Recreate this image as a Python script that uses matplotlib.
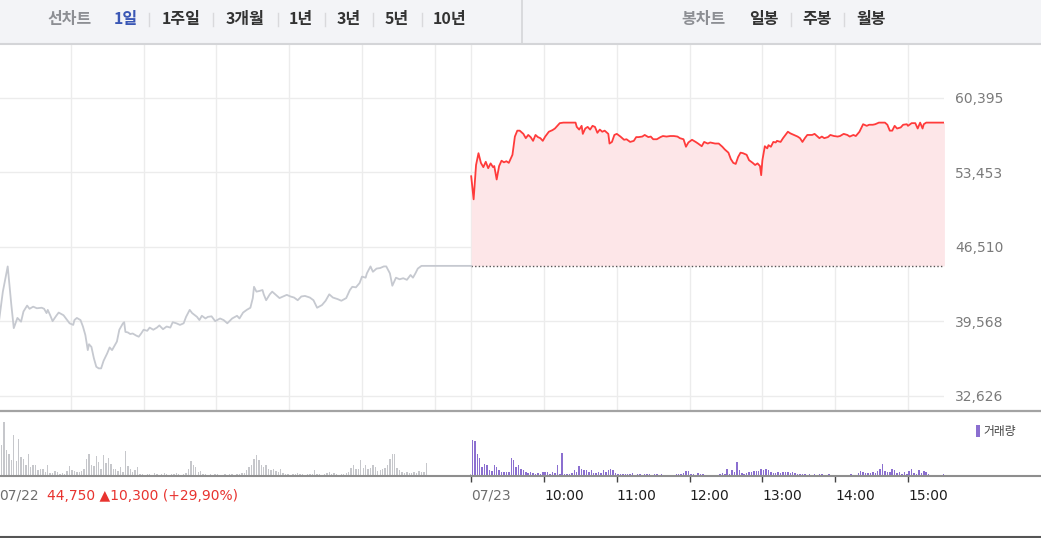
import numpy as np
import matplotlib
matplotlib.use("Agg")
import matplotlib.pyplot as plt
from matplotlib.patches import Rectangle
from matplotlib.lines import Line2D

# ---------------- data ----------------
prev_close = 44750
y_ticks = [32626, 39568, 46510, 53453, 60395]
day1_label = "07/22"
day2_label = "07/23"
summary_text = "44,750 \u25b210,300 (+29,90%)"
hour_labels = ["10:00", "11:00", "12:00", "13:00", "14:00", "15:00"]
period_tabs = ["1일", "1주일", "3개월", "1년", "3년", "5년", "10년"]
candle_tabs = ["일봉", "주봉", "월봉"]
line_tab = "선차트"
candle_tab = "봉차트"
volume_label = "거래량"

# 07/22 price (time, price)
t1 = ["09:00","09:04","09:08","09:11","09:13","09:16","09:19","09:21","09:24","09:26",
      "09:29","09:32","09:36","09:38","09:40","09:41","09:43","09:45","09:48","09:50",
      "09:54","09:57","09:59","10:02","10:03","10:05","10:08","10:10","10:12","10:14",
      "10:15","10:17","10:19","10:21","10:23","10:25","10:27","10:30","10:32","10:34",
      "10:36","10:38","10:40","10:43","10:44","10:45","10:47","10:49","10:51","10:54",
      "10:56","10:58","11:00","11:03","11:05","11:08","11:11","11:13","11:16","11:19",
      "11:22","11:24","11:27","11:30","11:33","11:35","11:38","11:40","11:44","11:46",
      "11:48","11:51","11:53","11:56","11:59","12:03","12:06","12:09","12:13","12:17",
      "12:19","12:22","12:25","12:28","12:30","12:31","12:33","12:35","12:38","12:39",
      "12:41","12:44","12:46","12:49","12:52","12:55","12:58","13:01","13:04","13:07",
      "13:10","13:13","13:17","13:20","13:23","13:27","13:30","13:33","13:36","13:40",
      "13:43","13:47","13:50","13:52","13:55","13:58","14:00","14:03","14:04","14:07",
      "14:09","14:12","14:15","14:18","14:20","14:23","14:25","14:28","14:31","14:34",
      "14:37","14:40","14:42","14:44","14:46","14:49","15:30"]
p1 = [38900,42350,44700,41100,38950,39900,39550,40500,41050,40750,
      40950,40800,40850,40750,40350,40650,40150,39600,40100,40400,
      40150,39700,39400,39250,39700,39900,39700,39100,38300,36900,
      37450,37200,36150,35350,35200,35200,35900,36600,37150,36900,
      37300,37700,38800,39400,39500,38600,38550,38400,38450,38250,
      38150,38450,38800,38700,39000,38800,39000,39200,38850,39100,
      39000,39500,39400,39250,39400,40000,40650,40350,40000,39700,
      40100,39850,40000,40050,39600,39850,39700,39400,39850,40100,
      39850,40400,40650,40850,41750,42800,42350,42400,42500,42100,
      41550,42100,42350,42050,41750,41900,42050,41900,41800,41550,
      41900,41950,41800,41550,40850,41100,41500,42100,41800,41650,
      41500,41750,42500,42800,42750,43150,43750,43650,44050,44700,
      44200,44500,44550,44700,44700,44050,42900,43650,43500,43600,
      43450,43900,43650,44050,44500,44750,44750]

# 07/23 price (time, price)
t2 = ["09:00","09:02","09:04","09:06","09:08","09:10","09:12","09:14","09:16","09:18",
      "09:19","09:21","09:23","09:25","09:27","09:29","09:31","09:34","09:36","09:38",
      "09:40","09:43","09:45","09:47","09:49","09:51","09:53","09:55","09:57","09:59",
      "10:01","10:04","10:07","10:09","10:11","10:13","10:16","10:26","10:27","10:29",
      "10:31","10:32","10:34","10:36","10:38","10:40","10:42","10:44","10:46","10:48",
      "10:50","10:53","10:54","10:56","10:58","11:00","11:03","11:06","11:08","11:11",
      "11:14","11:16","11:18","11:21","11:23","11:26","11:28","11:30","11:33","11:36",
      "11:38","11:41","11:44","11:47","11:50","11:52","11:55","11:57","11:59","12:02",
      "12:05","12:07","12:10","12:12","12:15","12:17","12:21","12:24","12:27","12:29",
      "12:32","12:34","12:36","12:38","12:40","12:42","12:44","12:47","12:49","12:52",
      "12:54","12:56","12:58","12:59","13:00","13:02","13:04","13:05","13:07","13:09",
      "13:11","13:12","13:15","13:17","13:19","13:21","13:23","13:26","13:29","13:31",
      "13:33","13:35","13:37","13:41","13:43","13:45","13:47","13:49","13:51","13:54",
      "13:56","13:59","14:02","14:04","14:07","14:10","14:12","14:15","14:17","14:20",
      "14:23","14:26","14:28","14:31","14:33","14:36","14:41","14:43","14:45","14:47",
      "14:49","14:51","14:54","14:56","14:59","15:00","15:03","15:06","15:08","15:10",
      "15:12","15:13","15:15","15:30"]
p2 = [53100,50950,54150,55250,54350,53950,54450,53850,54300,53950,
      54050,52800,54050,54550,54400,54500,54350,55100,56800,57350,
      57350,57050,56650,56950,56750,56400,56950,56750,56650,56400,
      56800,57250,57400,57550,57800,58050,58100,58100,57700,57450,
      57800,57050,57550,57700,57450,57800,57700,57150,57450,57250,
      57350,57050,56150,56300,56950,57050,56800,56500,56550,56300,
      56400,56750,56750,56800,56950,56750,56800,56550,56550,56750,
      56850,56800,56850,56850,56800,56650,56550,55850,56250,56500,
      56300,56150,55900,56300,56150,56250,56150,56150,55850,55600,
      55300,54700,54350,54250,54900,55300,55250,55100,54600,54350,
      54150,54300,54050,53200,54600,55900,55700,56000,55850,56300,
      56250,56400,56300,56650,56950,57250,57100,56950,56800,56650,
      56300,56650,56950,56950,57050,56850,56650,56800,56650,56750,
      56950,56850,56800,56850,57050,56950,56800,56950,56850,57250,
      57950,57800,57900,57900,57950,58100,58100,57900,57350,57350,
      57800,57550,57650,57900,57950,57800,58050,58050,57550,58100,
      57550,57950,58100,58100]

# volume, 2-minute bars starting 09:00 (relative units)
vol1 = [15,31,54,26,22,16,41,15,37,19,
        17,11,22,9,11,11,6,7,7,4,
        11,3,3,5,4,2,3,2,5,10,
        6,5,4,4,5,7,17,22,11,10,
        20,14,7,21,13,18,12,7,7,5,
        9,4,25,10,7,4,6,9,2,2,
        1,2,2,1,3,2,1,2,3,2,
        1,2,2,3,2,1,2,3,7,15,
        11,9,4,5,2,2,1,2,1,2,
        2,1,1,2,1,2,2,1,2,2,
        3,3,6,9,11,17,21,16,11,9,
        11,7,6,7,5,4,7,3,2,2,
        1,2,2,3,2,2,1,2,2,2,
        6,2,2,1,2,3,4,2,3,2,
        1,2,2,3,4,8,11,7,7,16,
        8,11,7,8,11,9,5,6,7,8,
        11,17,22,22,8,6,4,3,4,3,
        3,4,3,5,4,4,13,1]
vol1_close = 2
vol2 = [36,35,22,18,9,12,11,6,5,11,
        9,6,4,4,4,4,18,16,9,11,
        7,6,4,3,4,3,2,3,2,4,
        4,4,2,4,3,11,2,23,2,2,
        2,3,6,4,10,7,6,6,4,6,
        3,3,4,3,6,4,6,7,6,3,
        2,2,2,2,2,2,3,1,2,2,
        1,2,2,2,1,2,2,1,2,1,
        0,0,1,1,2,2,2,3,5,5,
        2,2,1,3,2,2,1,1,1,0,
        1,1,2,3,2,7,2,6,4,14,
        6,3,2,3,4,4,5,5,5,7,
        6,7,6,4,3,3,4,3,4,4,
        4,3,4,3,2,2,2,2,1,2,
        1,2,1,2,2,1,0,2,1,1,
        0,0,0,0,1,1,2,1,1,3,
        5,4,3,3,3,4,3,5,7,12,
        5,4,4,7,6,3,4,2,4,2,
        5,7,3,2,6,3,5,4,2,1]
vol2_close = 2

assert len(t1) == len(p1) and len(t2) == len(p2)

# ---------------- helpers ----------------
W, H = 1041, 538
DAY2_OFFSET = 6.5  # 07/23 09:00 follows 07/22 15:30 on a continuous hour axis


def hours(t, day):
    hh, mm = map(int, t.split(":"))
    return (hh - 9) + mm / 60.0 + (DAY2_OFFSET if day == 2 else 0.0)


def fx(px):
    return px / W


def fy(py):
    return 1 - py / H


h1 = np.array([hours(t, 1) for t in t1])
h2 = np.array([hours(t, 2) for t in t2])
vh1 = np.arange(len(vol1)) * (2 / 60) + 1 / 60
vh2 = np.arange(len(vol2)) * (2 / 60) + 1 / 60 + DAY2_OFFSET

XLIM = (2 / 72.8, 946 / 72.8)
YLIM = (31321, 65425)
KFONT = ["Noto Sans CJK KR", "DejaVu Sans"]

fig = plt.figure(figsize=(W / 100, H / 100), dpi=100)
fig.patch.set_facecolor("white")

# ---------------- top tab bar ----------------
fig.add_artist(Rectangle((0, fy(43)), 1, 1 - fy(43), transform=fig.transFigure,
                         facecolor="#f3f4f7", edgecolor="none", zorder=0))
fig.add_artist(Line2D([0, 1], [fy(43.5), fy(43.5)], transform=fig.transFigure,
                      color="#d4d5d8", lw=1.5))
fig.add_artist(Line2D([fx(522), fx(522)], [fy(0), fy(43)], transform=fig.transFigure,
                      color="#d4d5d8", lw=1.2))

ty = fy(19)
fig.text(fx(70), ty, line_tab, ha="center", va="center", fontsize=11.5,
         fontweight="bold", color="#8d8f94", family=KFONT)
tab_x = [126, 181.5, 245, 301, 349, 396.5, 450]
sep_x = [148.7, 213, 277.7, 325, 372.7, 421.7]
for i, (lab, cx) in enumerate(zip(period_tabs, tab_x)):
    fig.text(fx(cx), ty, lab, ha="center", va="center", fontsize=11.5,
             fontweight="bold", color="#3a57b5" if i == 0 else "#333333", family=KFONT)
for sx in sep_x:
    fig.add_artist(Line2D([fx(sx), fx(sx)], [fy(13), fy(26)], transform=fig.transFigure,
                          color="#d9d9dc", lw=1))
fig.text(fx(703.5), ty, candle_tab, ha="center", va="center", fontsize=11.5,
         fontweight="bold", color="#8d8f94", family=KFONT)
for lab, cx in zip(candle_tabs, [764, 817, 871.5]):
    fig.text(fx(cx), ty, lab, ha="center", va="center", fontsize=11.5,
             fontweight="bold", color="#333333", family=KFONT)
for sx in [790.7, 844]:
    fig.add_artist(Line2D([fx(sx), fx(sx)], [fy(13), fy(26)], transform=fig.transFigure,
                          color="#d9d9dc", lw=1))

# ---------------- price panel ----------------
ax = fig.add_axes([0, fy(410), fx(944), fy(44) - fy(410)])
ax.set_xlim(*XLIM)
ax.set_ylim(*YLIM)
for s in ax.spines.values():
    s.set_visible(False)
grid_h = [1, 2, 3, 4, 5, 6, 6.5, 7.5, 8.5, 9.5, 10.5, 11.5, 12.5]
ax.set_xticks(grid_h)
ax.set_xticklabels([])
ax.tick_params(axis="x", length=0)
ax.set_yticks(y_ticks)
ax.set_yticklabels([f"{v:,}" for v in y_ticks])
ax.yaxis.tick_right()
ax.tick_params(axis="y", length=0, pad=8, labelsize=10, labelcolor="#7a7a7a")
ax.grid(True, color="#ececec", lw=1)
ax.set_axisbelow(True)

ax.fill_between(h2, p2, prev_close, color="#fde6e8", lw=0, zorder=1)
ax.hlines(prev_close, DAY2_OFFSET, XLIM[1], colors="#555555", lw=1,
          linestyles=(0, (1, 1.6)), zorder=2)
ax.plot(h1, p1, color="#c6c9d0", lw=1.3, zorder=3, solid_joinstyle="round")
ax.plot(h2, p2, color="#ff3b3b", lw=1.3, zorder=3, solid_joinstyle="round")

fig.add_artist(Line2D([0, 1], [fy(410.7), fy(410.7)], transform=fig.transFigure,
                      color="#a3a3a3", lw=1.6))

# ---------------- volume panel ----------------
axv = fig.add_axes([0, fy(476), fx(944), fy(412) - fy(476)])
axv.set_xlim(*XLIM)
axv.set_ylim(0, 64)
for s in axv.spines.values():
    s.set_visible(False)
axv.set_yticks([])
axv.bar(vh1, vol1, width=0.019, color="#c6c7cb", lw=0)
axv.bar([DAY2_OFFSET - 0.01], [vol1_close], width=0.019, color="#c6c7cb", lw=0)
axv.bar(vh2, vol2, width=0.02, color="#8b6fd0", lw=0)
axv.bar([13.0 - 0.01], [vol2_close], width=0.02, color="#8b6fd0", lw=0)

tick_h = [6.5, 7.5, 8.5, 9.5, 10.5, 11.5, 12.5]
axv.set_xticks(tick_h)
axv.set_xticklabels([day2_label] + hour_labels)
axv.tick_params(axis="x", length=4.5, width=1, color="#444444", pad=4.5,
                labelsize=10, direction="out")
for i, lab in enumerate(axv.get_xticklabels()):
    lab.set_ha("left")
    lab.set_color("#6e6e6e" if i == 0 else "#1e1e1e")

fig.add_artist(Line2D([0, 1], [fy(476), fy(476)], transform=fig.transFigure,
                      color="#8e8e8e", lw=1.5))

# volume legend
fig.add_artist(Rectangle((fx(976), fy(437)), fx(4), fy(425) - fy(437),
                         transform=fig.transFigure, facecolor="#8b6fd0", edgecolor="none"))
fig.text(fx(983), fy(431), volume_label, ha="left", va="center", fontsize=8.5,
         color="#444444", family=KFONT)

# bottom labels
fig.text(fx(-1), fy(495.5), day1_label, ha="left", va="center", fontsize=10, color="#6e6e6e")
fig.text(fx(47), fy(495.5), summary_text, ha="left", va="center", fontsize=10, color="#e8332f")

fig.add_artist(Line2D([0, 1], [fy(537), fy(537)], transform=fig.transFigure,
                      color="#555555", lw=1.5))

fig.savefig("out.png", dpi=100, facecolor="white")
